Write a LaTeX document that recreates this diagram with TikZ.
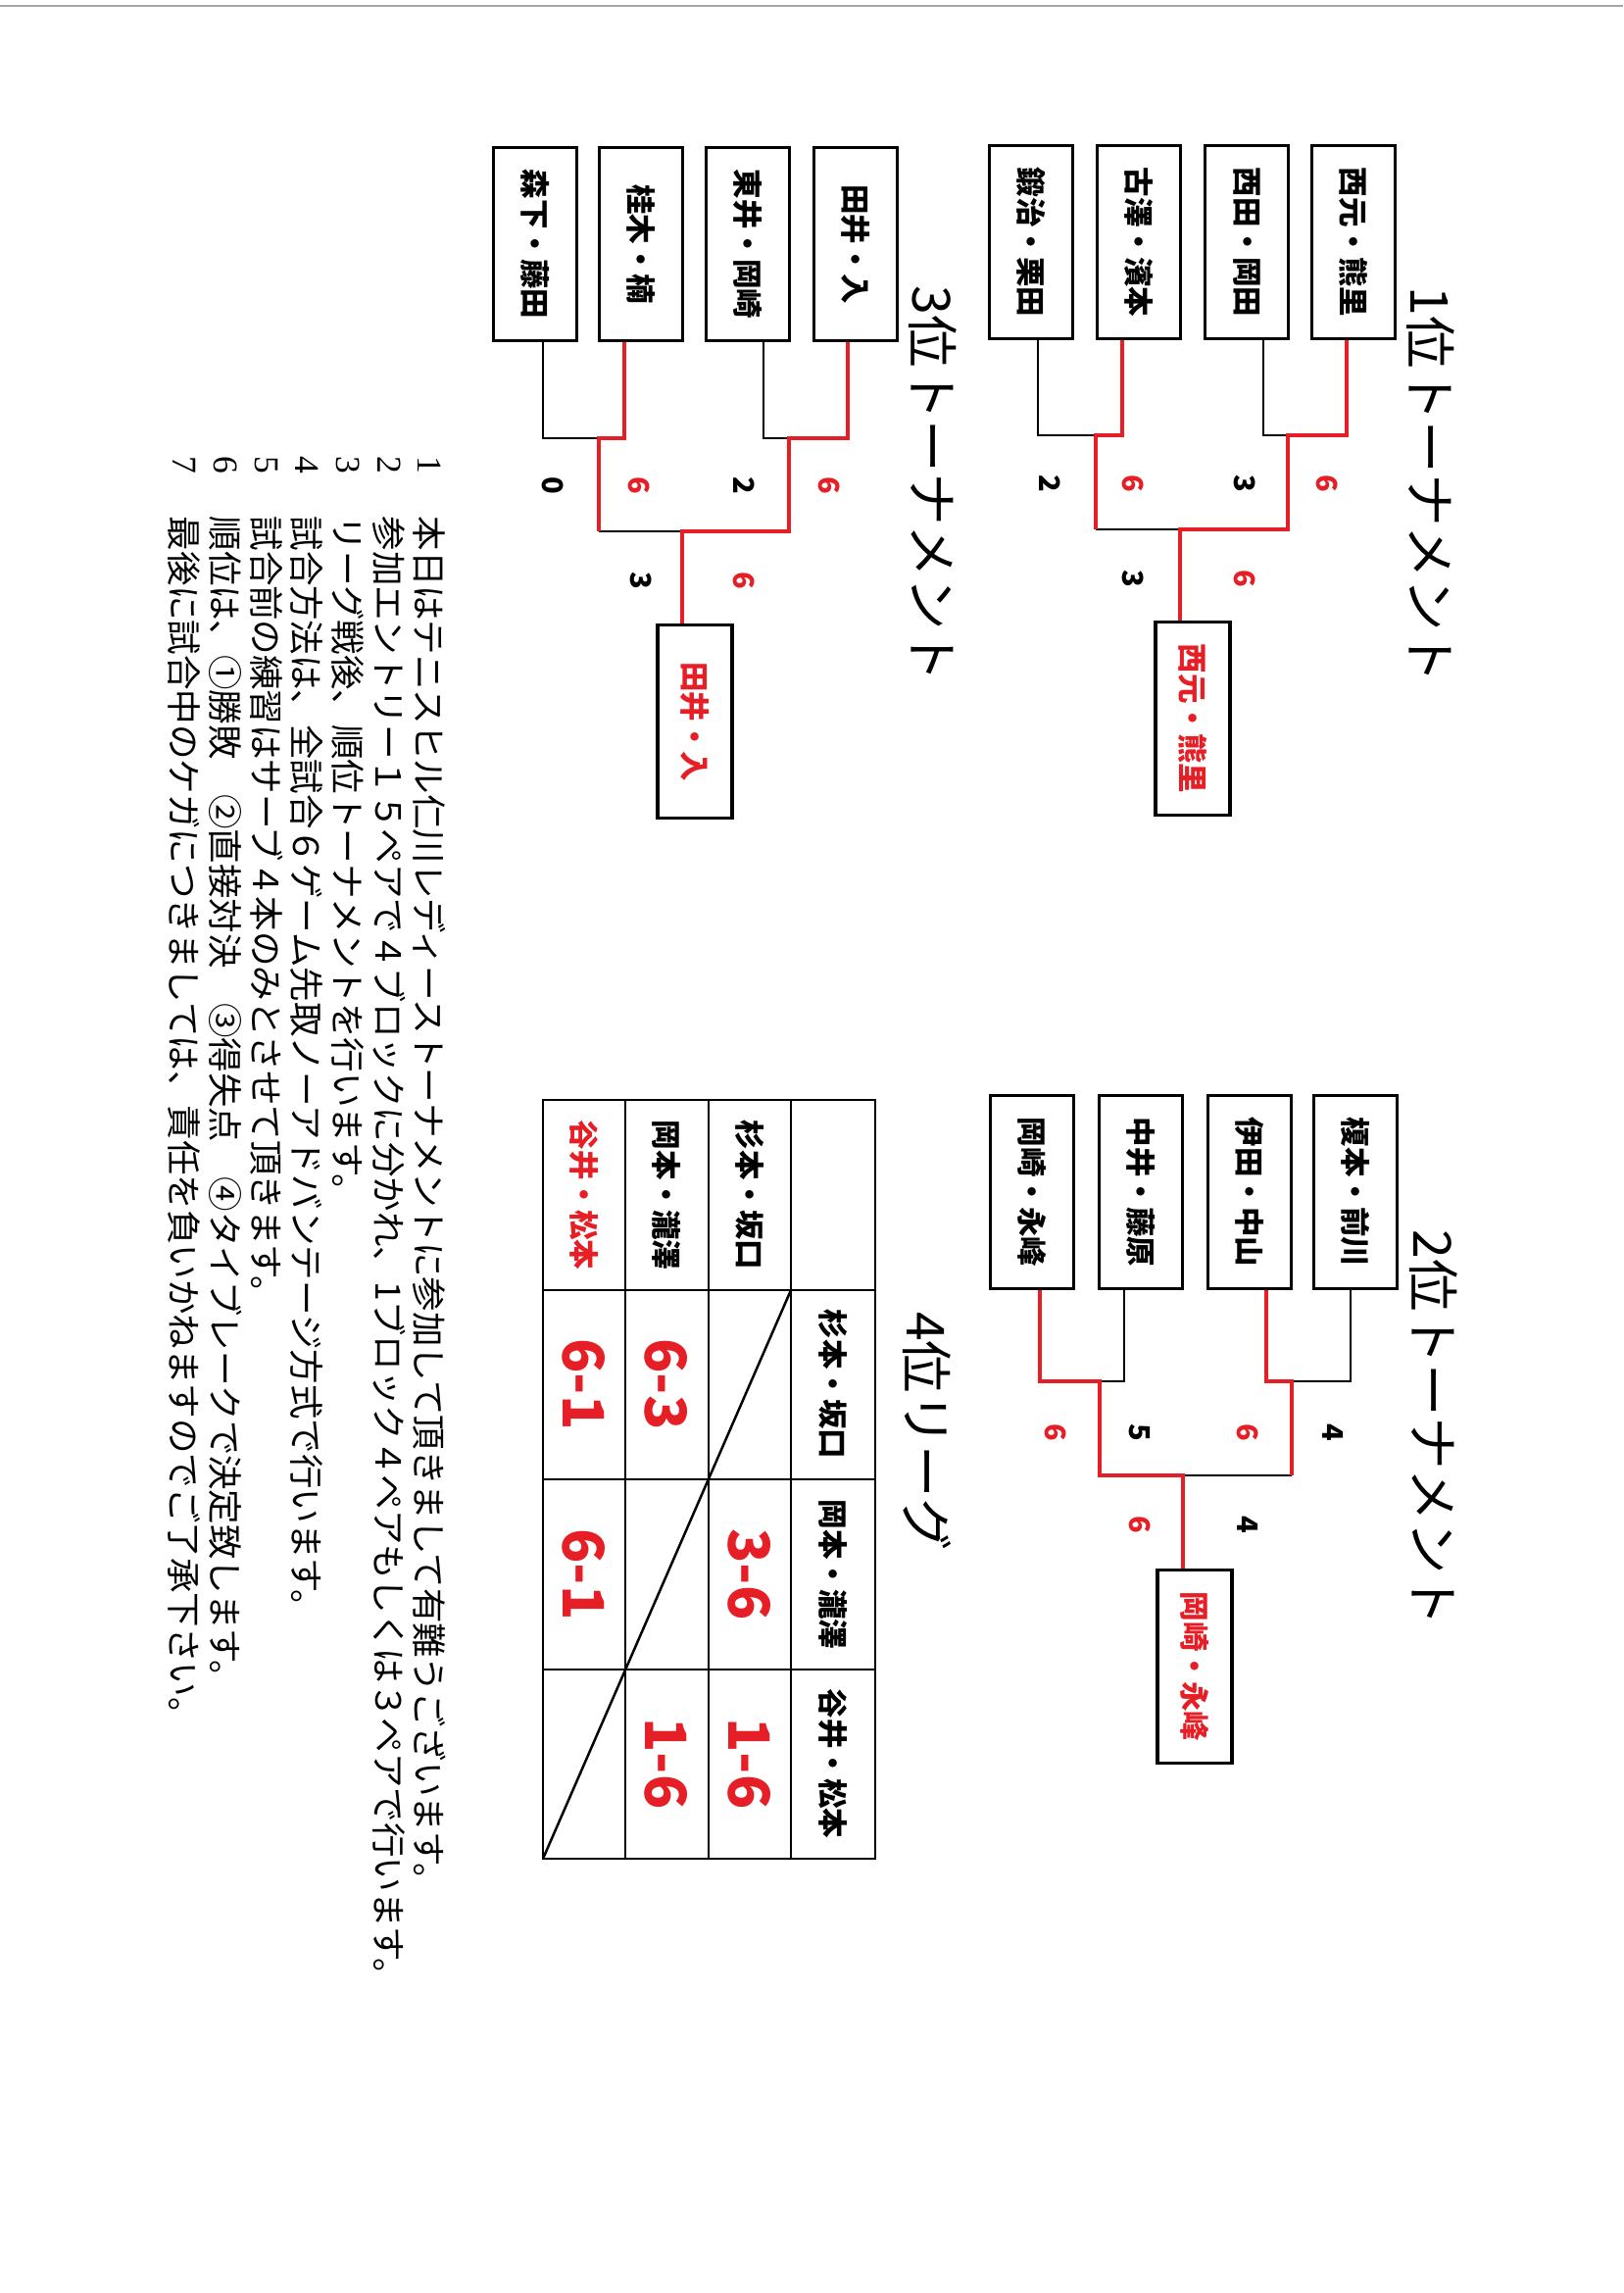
\documentclass[tikz,border=0pt]{standalone}
\usepackage{fontspec}
\setmainfont{Noto Sans CJK JP}
\newfontfamily\numfont{Liberation Serif}
\definecolor{winred}{RGB}{230,30,38}
\newcommand\pxu{0.1268mm}
\tikzset{
  pair/.style={draw,line width=1.1pt,rotate=-90,inner sep=0pt,
    minimum width=197*\pxu,minimum height=85*\pxu,
    font=\bfseries\fontsize{11}{13}\selectfont},
  champ/.style={pair,minimum height=76*\pxu,text=winred},
  lose/.style={line width=0.8pt},
  win/.style={line width=1.4pt,winred},
  score/.style={rotate=-90,inner sep=0pt,font=\bfseries\fontsize{10.5}{12}\selectfont},
  title/.style={rotate=-90,inner sep=0pt,font=\fontsize{19.3}{23}\selectfont},
  note/.style={rotate=-90,inner sep=0pt,anchor=west,font=\fontsize{12.8}{15}\selectfont},
  cell/.style={rotate=-90,inner sep=0pt,font=\bfseries\fontsize{11}{13}\selectfont},
  res/.style={rotate=-90,inner sep=0pt,text=winred,font=\bfseries\fontsize{21}{25}\selectfont}
}
\begin{document}
\begin{tikzpicture}[x=\pxu,y=-\pxu]
    \useasboundingbox (0,0) rectangle (1656,2339);
    \draw[black!35,line width=0.9pt] (0,6) -- (1656,6);
    % titles
    \node[title] (t1) at (1460,495) {1位トーナメント};
    \node[title] (t2) at (1463,1457) {2位トーナメント};
    \node[title] (t3) at (952,494) {3位トーナメント};
    \node[title] (t4) at (946,1460) {4位リーグ};
    % 1st
    \node[pair] (a1) at (1381,247) {西元・熊里};
    \node[pair] (a2) at (1272,247) {西田・岡田};
    \node[pair] (a3) at (1162,247) {古澤・濱本};
    \node[pair] (a4) at (1052,247) {鍛治・栗田};
    \node[champ] (aw) at (1217,733) {西元・熊里};
    \coordinate (a12) at (1314,444);
    \coordinate (a34) at (1118,444);
    \coordinate (af) at (1204,540);
    \draw[lose] ([xshift=17*\pxu]a2.east) |- (a12);
    \draw[lose] ([xshift=7*\pxu]a4.east) |- (a34);
    \draw[lose] (a34 |- af) -- (af);
    \draw[win] ([xshift=-7*\pxu]a1.east) |- (a12) -- (a12 |- af) -- (af) -- (af |- aw.west);
    \draw[win] ([xshift=-17*\pxu]a3.east) |- (a34) -- (a34 |- af);
    \node[score,winred] (as1) at (1354,493) {6};
    \node[score] (as2) at (1270,493) {3};
    \node[score,winred] (as3) at (1156,493) {6};
    \node[score] (as4) at (1071,493) {2};
    \node[score,winred] (as5) at (1270,590) {6};
    \node[score] (as6) at (1156,590) {3};
    % 2nd
    \node[pair] (b1) at (1383,1216) {榎本・前川};
    \node[pair] (b2) at (1275,1216) {伊田・中山};
    \node[pair] (b3) at (1164,1216) {中井・藤原};
    \node[pair] (b4) at (1053,1216) {岡崎・永峰};
    \node[champ] (bw) at (1219,1700) {岡崎・永峰};
    \coordinate (b12) at (1318,1409);
    \coordinate (b34) at (1122,1409);
    \coordinate (bf) at (1207,1505);
    \draw[lose] ([xshift=-5*\pxu]b1.east) |- (b12);
    \draw[lose] ([xshift=-17*\pxu]b3.east) |- (b34);
    \draw[lose] (b12 |- bf) -- (bf);
    \draw[win] ([xshift=17*\pxu]b2.east) |- (b12) -- (b12 |- bf);
    \draw[win] ([xshift=8*\pxu]b4.east) |- (b34) -- (b34 |- bf) -- (bf) -- (bf |- bw.west);
    \node[score] (bs1) at (1360,1461) {4};
    \node[score,winred] (bs2) at (1273,1461) {6};
    \node[score] (bs3) at (1163,1461) {5};
    \node[score,winred] (bs4) at (1077,1461) {6};
    \node[score] (bs5) at (1273,1555) {4};
    \node[score,winred] (bs6) at (1163,1555) {6};
    % 3rd
    \node[pair] (c1) at (873,249) {田井・入};
    \node[pair] (c2) at (763,249) {東井・岡崎};
    \node[pair] (c3) at (654,249) {桂木・楠};
    \node[pair] (c4) at (546,249) {森下・藤田};
    \node[champ] (cw) at (709,736) {田井・入};
    \coordinate (c12) at (805,447);
    \coordinate (c34) at (611,447);
    \coordinate (cf) at (696,542);
    \draw[lose] ([xshift=16*\pxu]c2.east) |- (c12);
    \draw[lose] ([xshift=8*\pxu]c4.east) |- (c34);
    \draw[lose] (c34 |- cf) -- (cf);
    \draw[win] ([xshift=-8*\pxu]c1.east) |- (c12) -- (c12 |- cf) -- (cf) -- (cf |- cw.west);
    \draw[win] ([xshift=-17*\pxu]c3.east) |- (c34) -- (c34 |- cf);
    \node[score,winred] (cs1) at (846,495) {6};
    \node[score] (cs2) at (759,495) {2};
    \node[score,winred] (cs3) at (652,495) {6};
    \node[score] (cs4) at (564,495) {0};
    \node[score,winred] (cs5) at (759,592) {6};
    \node[score] (cs6) at (654,592) {3};
    % 4th league
    \draw[line width=1pt] (554,1122) rectangle (893,1896);
    \foreach \x in {638,723,807} \draw[line width=1pt] (\x,1122) -- (\x,1896);
    \foreach \y in {1316,1509,1703} \draw[line width=1pt] (554,\y) -- (893,\y);
    \draw[line width=0.9pt] (807,1316) -- (554,1896);
    \node[cell] (h1) at (850,1412) {杉本・坂口};
    \node[cell] (h2) at (850,1606) {岡本・瀧澤};
    \node[cell] (h3) at (850,1799) {谷井・松本};
    \node[cell] (r1) at (765,1219) {杉本・坂口};
    \node[cell] (r2) at (680,1219) {岡本・瀧澤};
    \node[cell,winred] (r3) at (596,1219) {谷井・松本};
    \node[res] (r1c2) at (765,1606) {3-6};
    \node[res] (r1c3) at (765,1799) {1-6};
    \node[res] (r2c1) at (680,1412) {6-3};
    \node[res] (r2c3) at (680,1799) {1-6};
    \node[res] (r3c1) at (596,1412) {6-1};
    \node[res] (r3c2) at (596,1606) {6-1};
    % notes
    \foreach \n/\x in {1/438,2/397,3/355,4/313,5/272,6/230,7/188}
      \node[rotate=-90,font=\numfont\fontsize{12.8}{15}\selectfont] (n\n) at (\x,474) {\n};
    \node[note] (l1) at (438,526) {本日はテニスヒル仁川レディーストーナメントに参加して頂きまして有難うございます。};
    \node[note] (l2) at (397,526) {参加エントリー１５ペアで４ブロックに分かれ、1ブロック４ペアもしくは３ペアで行います。};
    \node[note] (l3) at (355,526) {リーグ戦後、順位トーナメントを行います。};
    \node[note] (l4) at (313,526) {試合方法は、全試合６ゲーム先取ノーアドバンテージ方式で行います。};
    \node[note] (l5) at (272,526) {試合前の練習はサーブ４本のみとさせて頂きます。};
    \node[note] (l6) at (230,526) {順位は、①勝敗　②直接対決　③得失点　④タイブレークで決定致します。};
    \node[note] (l7) at (188,526) {最後に試合中のケガにつきましては、責任を負いかねますのでご了承下さい。};
\end{tikzpicture}
\end{document}
